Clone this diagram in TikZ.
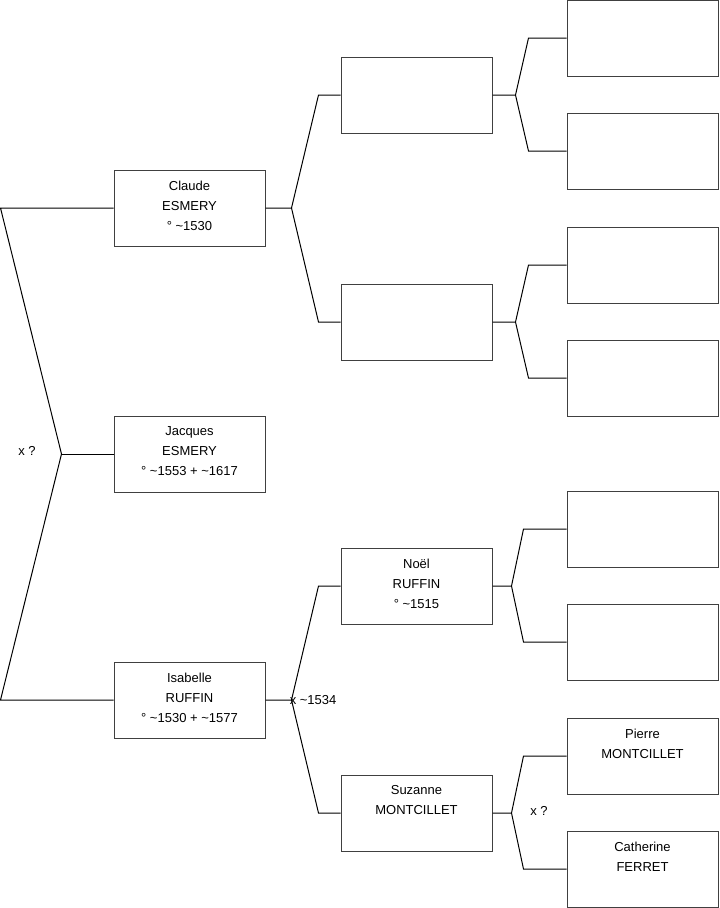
\documentclass[tikz,border=0pt]{standalone}
\usepackage{fontspec}
\setmainfont{Liberation Sans}
\usetikzlibrary{calc,positioning}
\tikzset{
    person/.style = {draw=black!75, rectangle, line width=0.75pt,
        minimum width=113.25pt, minimum height=57pt, inner sep=0pt},
    who/.style = {anchor=north, align=center, inner sep=0pt,
        font=\fontsize{9.75}{15}\selectfont},
    link/.style = {draw, line width=0.75pt},
    lab/.style = {font=\fontsize{9.75}{12}\selectfont, inner sep=0pt}
}
\begin{document}
\begin{tikzpicture}[x=0.75pt, y=-0.75pt]
\useasboundingbox (0,0) rectangle (719,908);
% generation 1
\node[person] (jacques) at (189.5,454) {};
\node[person, above=126.75pt of jacques] (claude) {};
\node[person, below=126.75pt of jacques] (isabelle) {};
% generation 2
\node[person] (pc) at (416.5,95) {};
\node[person] (mc) at (416.5,322) {};
\node[person] (noel) at (416.5,586) {};
\node[person] (suzanne) at (416.5,813) {};
% generation 3
\node[person] (ppc) at (642.5,38) {};
\node[person] (mpc) at (642.5,151) {};
\node[person] (pmc) at (642.5,265) {};
\node[person] (mmc) at (642.5,378) {};
\node[person] (pn) at (642.5,529) {};
\node[person] (mn) at (642.5,642) {};
\node[person] (pierre) at (642.5,756) {};
\node[person] (catherine) at (642.5,869) {};

% names
\node[who] (claude-t) at ($(claude.north)+(0,11)$) {Claude\\ESMERY\\° \textasciitilde1530};
\node[who] (jacques-t) at ($(jacques.north)+(0,11)$) {Jacques\\ESMERY\\° \textasciitilde1553 + \textasciitilde1617};
\node[who] (isabelle-t) at ($(isabelle.north)+(0,11)$) {Isabelle\\RUFFIN\\° \textasciitilde1530 + \textasciitilde1577};
\node[who] (noel-t) at ($(noel.north)+(0,11)$) {Noël\\RUFFIN\\° \textasciitilde1515};
\node[who] (suzanne-t) at ($(suzanne.north)+(0,11)$) {Suzanne\\MONTCILLET};
\node[who] (pierre-t) at ($(pierre.north)+(0,11)$) {Pierre\\MONTCILLET};
\node[who] (catherine-t) at ($(catherine.north)+(0,11)$) {Catherine\\FERRET};

% root fork
\coordinate (root) at ($(jacques.west)+(-52,0)$);
\draw[link] (claude.west) -- ++(-113,0) -- (root) -- ($(isabelle.west)+(-113,0)$) -- (isabelle.west);
\draw[link] (root) -- (jacques.west);
\node[lab] (root-x) at (27,451) {x ?};

% forks
\coordinate (cj) at ($(claude.east)+(26,0)$);
\draw[link] (claude.east) -- (cj) -- ($(pc.west)+(-22,0)$) -- (pc.west);
\draw[link] (cj) -- ($(mc.west)+(-22,0)$) -- (mc.west);

\coordinate (ij) at ($(isabelle.east)+(26,0)$);
\draw[link] (isabelle.east) -- (ij) -- ($(noel.west)+(-22,0)$) -- (noel.west);
\draw[link] (ij) -- ($(suzanne.west)+(-22,0)$) -- (suzanne.west);
\node[lab, anchor=west] (ij-x) at ($(ij)+(-2,0)$) {x \textasciitilde1534};

\coordinate (pcj) at ($(pc.east)+(23,0)$);
\draw[link] (pc.east) -- (pcj) -- ($(ppc.west)+(-38,0)$) -- (ppc.west);
\draw[link] (pcj) -- ($(mpc.west)+(-38,0)$) -- (mpc.west);

\coordinate (mcj) at ($(mc.east)+(23,0)$);
\draw[link] (mc.east) -- (mcj) -- ($(pmc.west)+(-38,0)$) -- (pmc.west);
\draw[link] (mcj) -- ($(mmc.west)+(-38,0)$) -- (mmc.west);

\coordinate (nj) at ($(noel.east)+(19,0)$);
\draw[link] (noel.east) -- (nj) -- ($(pn.west)+(-43,0)$) -- (pn.west);
\draw[link] (nj) -- ($(mn.west)+(-43,0)$) -- (mn.west);

\coordinate (sj) at ($(suzanne.east)+(19,0)$);
\draw[link] (suzanne.east) -- (sj) -- ($(pierre.west)+(-43,0)$) -- (pierre.west);
\draw[link] (sj) -- ($(catherine.west)+(-43,0)$) -- (catherine.west);
\node[lab] (sj-x) at (539,811) {x ?};
\end{tikzpicture}
\end{document}
